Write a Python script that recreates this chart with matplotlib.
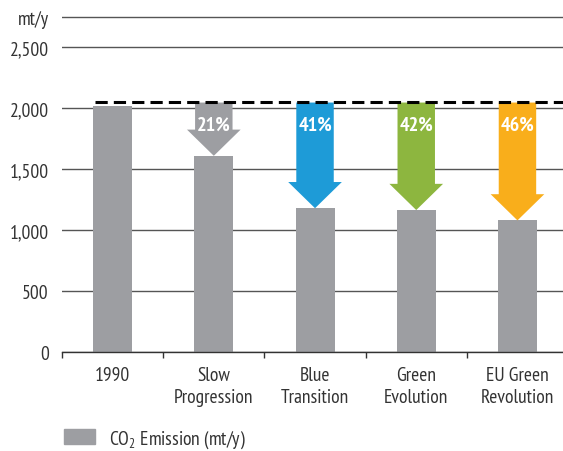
import matplotlib
matplotlib.use("Agg")
import matplotlib.pyplot as plt
from matplotlib.patches import Patch

plt.rcParams['font.family'] = ['PT Sans Narrow', 'DejaVu Sans']
plt.rcParams['mathtext.fontset'] = 'custom'
plt.rcParams['mathtext.rm'] = 'PT Sans Narrow'

# Emission scenarios (mt/y)
categories = ["1990", "Slow\nProgression", "Blue\nTransition", "Green\nEvolution", "EU Green\nRevolution"]
emissions = [2020, 1610, 1180, 1165, 1080]
reference = 2055
reductions = ["", "21%", "41%", "42%", "46%"]
arrow_colours = [None, "#9d9ea2", "#1e9bd7", "#8db63f", "#f9ae1b"]
yticks = [0, 500, 1000, 1500, 2000, 2500, 2745]
ytick_labels = ["0", "500", "1,000", "1,500", "2,000", "2,500", "mt/y"]

text_col = "#333333"
grid_col = "#555555"
bar_col = "#9d9ea2"

fig = plt.figure(figsize=(5.63, 4.52), dpi=100)
ax = fig.add_axes([0.1101, 0.219, 0.8899, 0.7549])

x = list(range(len(categories)))
ax.bar(x, emissions, width=0.385, color=bar_col, zorder=2)

# dashed 1990 reference level
ax.hlines(reference, -0.17, 4.45, colors="black", linewidth=2.2,
          linestyles=(0, (4, 2)), zorder=4)

# reduction arrows from the reference down to each scenario
for i in range(1, len(categories)):
    ax.arrow(i, reference - 8, 0, emissions[i] - reference + 8,
             width=0.37, head_width=0.53, head_length=215,
             length_includes_head=True, color=arrow_colours[i], lw=0, zorder=3)
    ax.text(i, reference - 190, reductions[i], color="white", fontsize=14.5,
            fontweight="bold", ha="center", va="center", zorder=5)

ax.set_xlim(-0.5, 4.45)
ax.set_ylim(0, 2800)
ax.set_yticks(yticks)
ax.set_yticklabels(ytick_labels)
ax.set_xticks(x)
ax.set_xticklabels(categories, linespacing=1.3)
ax.set_xticks([-0.5, 0.5, 1.5, 2.5, 3.5], minor=True)

ax.grid(axis="y", color=grid_col, linewidth=1.0, zorder=1)
ax.tick_params(axis="y", length=0, pad=9.5, labelsize=14, labelcolor=text_col)
ax.tick_params(axis="x", which="major", length=0, pad=10, labelsize=14, labelcolor=text_col)
ax.tick_params(axis="x", which="minor", length=4, width=1.0, color="#333333")

for side in ["left", "right", "top"]:
    ax.spines[side].set_visible(False)
ax.spines["bottom"].set_color("#333333")
ax.spines["bottom"].set_linewidth(1.0)
ax.spines["bottom"].set_zorder(5)

fig.legend(handles=[Patch(color=bar_col, label="CO$_2$ Emission (mt/y)")],
           loc="center left", bbox_to_anchor=(0.082, 0.027), frameon=False,
           fontsize=14, handlelength=1.6, handleheight=0.82, handletextpad=0.75,
           labelcolor=text_col)

fig.savefig("out.png", dpi=100)
